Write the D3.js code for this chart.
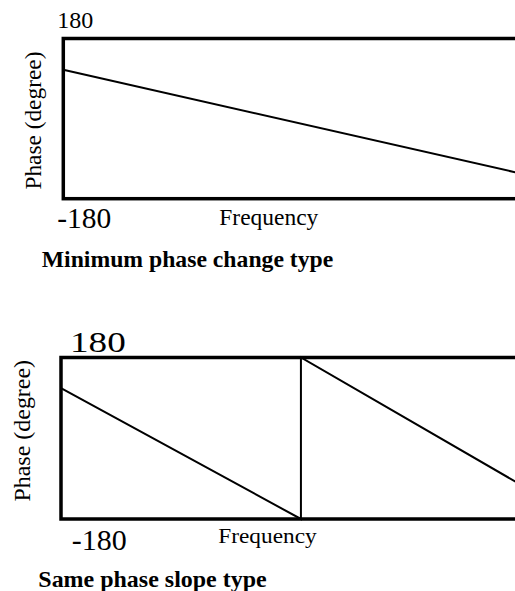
<!DOCTYPE html>
<html>
<head>
<meta charset="utf-8">
<script src="https://cdn.jsdelivr.net/npm/d3@7/dist/d3.min.js"></script>
<style>
  html, body { margin: 0; padding: 0; background: #fff; }
  svg { display: block; }
  text { font-family: "Liberation Serif", "Times New Roman", Times, serif; fill: #000; }
</style>
</head>
<body>
<div id="chart"></div>
<script>
// ---------------- data ----------------
const panelTitles = ["Minimum phase change type", "Same phase slope type"];
const xAxisLabel = "Frequency";
const yAxisLabel = "Phase (degree)";
const yTickLabels = ["180", "-180"];
const yDomain = [-180, 180];
const xDomain = [0, 100];

// panel 1: minimum phase change type (single gentle slope)
const freq1 = [0, 100];
const phase1 = [110, -122];

// panel 2: same phase slope type (wrapped at -180 -> 180)
const freq2 = [0, 52.5, 52.5, 100];
const phase2 = [112, -180, 180, -100];

// ---------------- layout ----------------
const W = 515, H = 591;
const panels = [
  {
    title: panelTitles[0], freq: freq1, phase: phase1,
    left: 63.3, right: 518, top: 38.5, bottom: 198.7,
    tTop: { dx: -6, dy: -10.2, size: 24, len: 36 },
    tBot: { dx: -6, dy: 29.6, size: 29.5, len: 54 },
    xLab: { x: 219.3, dy: 26.3, size: 23, len: 99 },
    yLab: { x: 41, size: 23, len: 138, dyc: 2 },
    ttl: { x: 41.7, dy: 68, size: 23.5, len: 291.6 }
  },
  {
    title: panelTitles[1], freq: freq2, phase: phase2,
    left: 61, right: 518, top: 357.5, bottom: 519,
    tTop: { dx: 9, dy: -5.2, size: 29.5, len: 55.7 },
    tBot: { dx: 10.7, dy: 31, size: 28.6, len: 55 },
    xLab: { x: 218.3, dy: 24.3, size: 22, len: 98.4 },
    yLab: { x: 29.5, size: 23, len: 141.7, dyc: -7.5 },
    ttl: { x: 38.3, dy: 67.7, size: 23.5, len: 228.4 }
  }
];

const svg = d3.select("#chart").append("svg")
  .attr("width", W).attr("height", H)
  .attr("viewBox", `0 0 ${W} ${H}`);

panels.forEach(p => {
  const x = d3.scaleLinear().domain(xDomain).range([p.left, p.right]);
  const y = d3.scaleLinear().domain(yDomain).range([p.bottom, p.top]);
  const g = svg.append("g");

  const pts = p.freq.map((f, i) => ({ f, v: p.phase[i] }));
  const line = d3.line().x(d => x(d.f)).y(d => y(d.v));

  g.append("path")
    .datum(pts)
    .attr("d", line)
    .attr("fill", "none")
    .attr("stroke", "#000")
    .attr("stroke-width", 2);

  // frame
  g.append("rect")
    .attr("x", x(xDomain[0])).attr("y", y(yDomain[1]))
    .attr("width", x(xDomain[1]) - x(xDomain[0]))
    .attr("height", y(yDomain[0]) - y(yDomain[1]))
    .attr("fill", "none")
    .attr("stroke", "#000")
    .attr("stroke-width", 3.5);

  // tick labels 180 (top) and -180 (bottom)
  g.append("text")
    .attr("x", x(xDomain[0]) + p.tTop.dx)
    .attr("y", y(180) + p.tTop.dy)
    .attr("font-size", p.tTop.size)
    .attr("textLength", p.tTop.len)
    .attr("lengthAdjust", "spacingAndGlyphs")
    .text(yTickLabels[0]);

  g.append("text")
    .attr("x", x(xDomain[0]) + p.tBot.dx)
    .attr("y", y(-180) + p.tBot.dy)
    .attr("font-size", p.tBot.size)
    .attr("textLength", p.tBot.len)
    .attr("lengthAdjust", "spacingAndGlyphs")
    .text(yTickLabels[1]);

  // x label
  g.append("text")
    .attr("x", p.xLab.x)
    .attr("y", y(-180) + p.xLab.dy)
    .attr("font-size", p.xLab.size)
    .attr("textLength", p.xLab.len)
    .attr("lengthAdjust", "spacingAndGlyphs")
    .text(xAxisLabel);

  // y label
  const cy = (y(180) + y(-180)) / 2 + p.yLab.dyc;
  g.append("text")
    .attr("transform", `translate(${p.yLab.x},${cy}) rotate(-90)`)
    .attr("text-anchor", "middle")
    .attr("font-size", p.yLab.size)
    .attr("textLength", p.yLab.len)
    .attr("lengthAdjust", "spacingAndGlyphs")
    .text(yAxisLabel);

  // panel title
  g.append("text")
    .attr("x", p.ttl.x)
    .attr("y", y(-180) + p.ttl.dy)
    .attr("font-size", p.ttl.size)
    .attr("font-weight", "bold")
    .attr("textLength", p.ttl.len)
    .attr("lengthAdjust", "spacingAndGlyphs")
    .text(p.title);
});
</script>
</body>
</html>
